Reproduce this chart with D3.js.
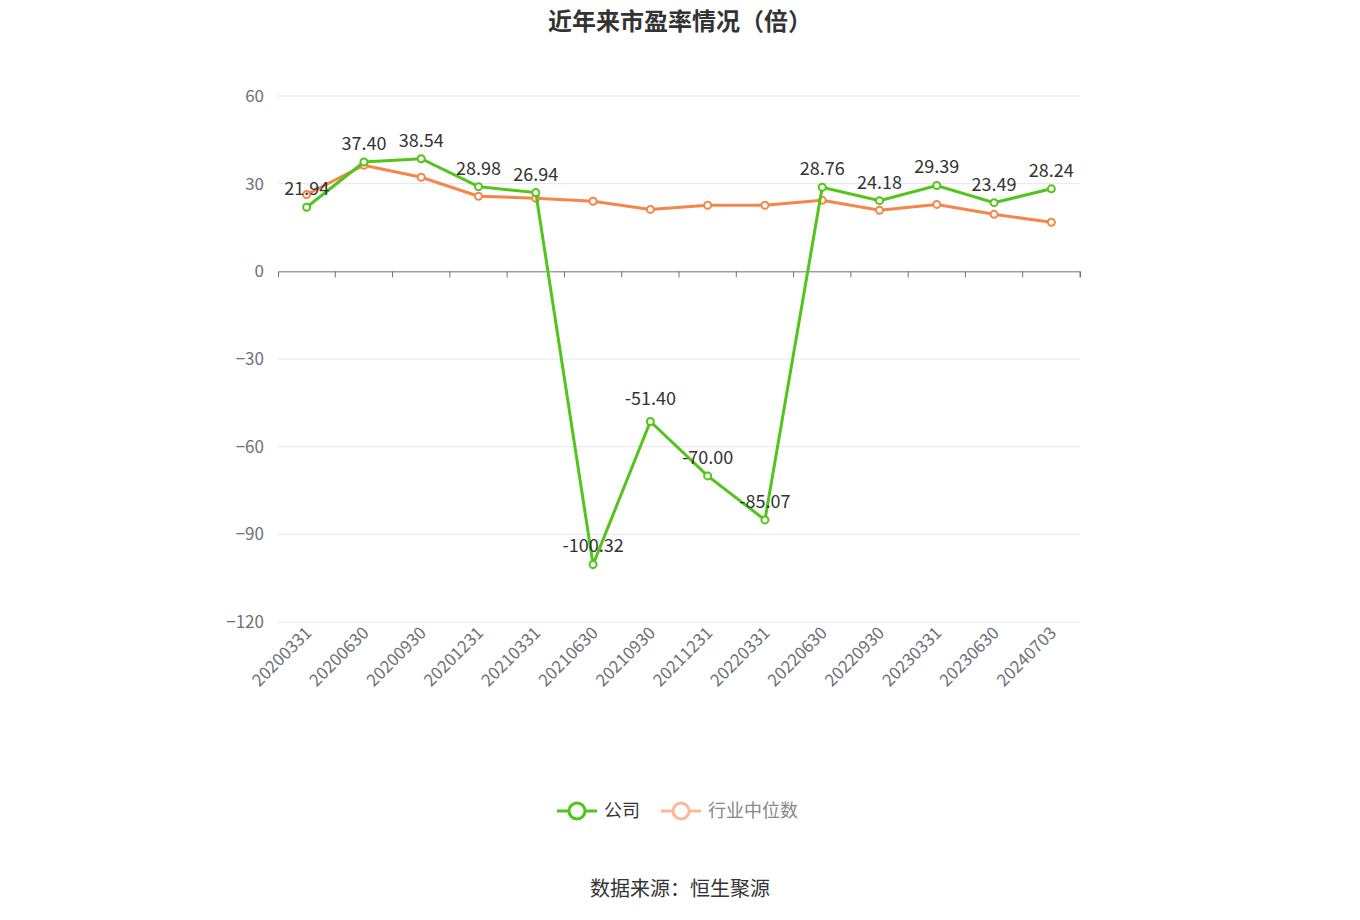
<!DOCTYPE html>
<html><head><meta charset="utf-8">
<script src="https://cdn.jsdelivr.net/npm/d3@7"></script>
<style>body{margin:0;background:#fff;font-family:"Noto Sans CJK SC","Noto Sans",sans-serif}</style>
</head><body><svg id="c" width="1360" height="920"></svg>
<script>
const categories=["20200331","20200630","20200930","20201231","20210331","20210630","20210930","20211231","20220331","20220630","20220930","20230331","20230630","20240703"];
const company=[21.94,37.40,38.54,28.98,26.94,-100.32,-51.40,-70.00,-85.07,28.76,24.18,29.39,23.49,28.24];
const industry=[26.3,36.3,32.2,25.7,25.0,24.0,21.2,22.6,22.6,24.3,20.9,22.9,19.5,16.8];
const yTicks=[60,30,0,-30,-60,-90,-120];
const svg=d3.select("#c");
const x=d3.scaleBand().domain(categories).range([278,1080]);
const cx=d=>x(d)+x.bandwidth()/2;
const y=d3.scaleLinear().domain([-120,60]).range([622,96]);
const F='"Noto Sans CJK SC",sans-serif';
svg.append("text").attr("x",680).attr("y",30).attr("text-anchor","middle").attr("font-size",24).attr("font-weight","bold").attr("fill","#333").attr("font-family",F).text("近年来市盈率情况（倍）");
const ya=svg.append("g").attr("transform","translate(278,0)").call(d3.axisLeft(y).tickValues(yTicks).tickSize(0).tickPadding(14));
ya.select(".domain").remove();
ya.selectAll("text").attr("font-size",17).attr("fill","#6e7079").attr("font-family",F);
svg.append("g").selectAll("line").data(yTicks.filter(t=>t!==0)).join("line").attr("x1",278).attr("x2",1080).attr("y1",d=>y(d)).attr("y2",d=>y(d)).attr("stroke","#e0e6f1");
const xa=svg.append("g").attr("transform",`translate(0,${y(0)})`).call(d3.axisBottom(x).tickSize(6).tickFormat(""));
xa.selectAll("line,path").attr("stroke","#6e7079");
xa.selectAll(".tick line").attr("transform",`translate(${x.bandwidth()/2},0)`);
svg.append("g").selectAll("text").data(categories).join("text").attr("font-size",17).attr("fill","#6e7079").attr("font-family",F)
 .attr("text-anchor","end").attr("transform",d=>`translate(${cx(d)+6},${y(-120)+12}) rotate(-45)`).text(d=>d);
function series(vals,color){
 svg.append("path").datum(vals).attr("fill","none").attr("stroke",color).attr("stroke-width",3)
  .attr("d",d3.line().x((d,i)=>cx(categories[i])).y(d=>y(d)));
 svg.append("g").selectAll("circle").data(vals).join("circle").attr("cx",(d,i)=>cx(categories[i])).attr("cy",d=>y(d)).attr("r",3.5).attr("fill","#fff").attr("stroke",color).attr("stroke-width",2);
}
series(industry,"#f5854a");
series(company,"#52c41a");
svg.append("g").selectAll("text").data(company).join("text").attr("x",(d,i)=>cx(categories[i])).attr("y",d=>y(d)-(d<0&&d>-60?17:12)).attr("text-anchor","middle").attr("font-size",18).attr("fill","#333").attr("font-family",F).text(d=>d.toFixed(2));
// legend
const lg=svg.append("g").attr("transform","translate(557,811)");
lg.append("line").attr("x1",0).attr("x2",40).attr("stroke","#52c41a").attr("stroke-width",3);
lg.append("circle").attr("cx",20).attr("r",8).attr("fill","#fff").attr("stroke","#52c41a").attr("stroke-width",3);
lg.append("text").attr("x",47).attr("y",6).attr("font-size",18).attr("fill","#333").attr("font-family",F).text("公司");
lg.append("line").attr("x1",104).attr("x2",144).attr("stroke","#fbb99a").attr("stroke-width",3);
lg.append("circle").attr("cx",124).attr("r",8).attr("fill","#fff").attr("stroke","#fbb99a").attr("stroke-width",3);
lg.append("text").attr("x",151).attr("y",6).attr("font-size",18).attr("fill","#888").attr("font-family",F).text("行业中位数");
svg.append("text").attr("x",680).attr("y",896).attr("text-anchor","middle").attr("font-size",20).attr("fill","#333").attr("font-family",F).text("数据来源：恒生聚源");
</script></body></html>
